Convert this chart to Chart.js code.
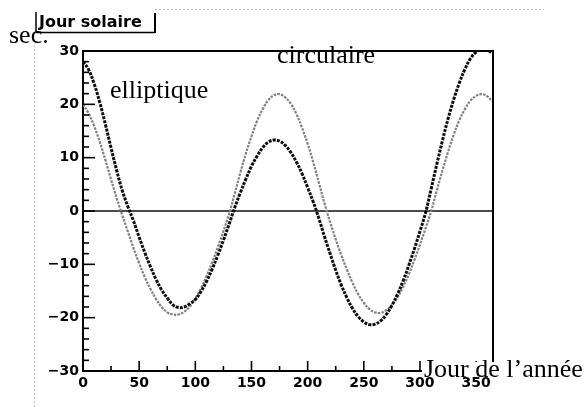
<!DOCTYPE html>
<html><head><meta charset="utf-8">
<script src="https://cdn.jsdelivr.net/npm/chart.js@4.4.1/dist/chart.umd.min.js"></script>
<style>html,body{margin:0;padding:0;background:#fff;overflow:hidden}canvas{display:block}</style>
</head><body>
<canvas id="c" width="586" height="407"></canvas>
<script>
// ---- data ----
const days = [0,5,10,15,20,25,30,35,40,45,
  50,55,60,65,70,75,80,85,90,95,
  100,105,110,115,120,125,130,135,140,145,
  150,155,160,165,170,175,180,185,190,195,
  200,205,210,215,220,225,230,235,240,245,
  250,255,260,265,270,275,280,285,290,295,
  300,305,310,315,320,325,330,335,340,345,
  350,355,360,364];
const elliptique = [28.0,26.5,23.8,20.3,16.2,11.8,7.6,3.8,0.8,-1.9,
  -4.9,-7.8,-10.4,-12.8,-14.8,-16.3,-17.6,-18.1,-18.0,-17.4,
  -16.6,-15.1,-13.2,-10.9,-8.3,-5.5,-2.5,0.6,3.4,6.0,
  8.4,10.3,11.9,12.9,13.3,13.1,12.3,11.0,9.2,7.0,
  4.4,1.7,-1.4,-4.8,-8.0,-11.1,-13.9,-16.3,-18.3,-19.8,
  -20.8,-21.3,-21.2,-20.6,-19.4,-17.7,-15.6,-13.1,-10.2,-7.1,
  -3.8,-0.3,4.2,8.8,13.2,17.3,20.9,24.0,26.6,28.6,
  29.8,30.4,30.2,29.6];
const circulaire = [20.0,18.3,15.9,12.9,9.5,5.9,2.4,-0.8,-3.9,-7.0,
  -9.8,-12.4,-14.6,-16.5,-18.0,-19.0,-19.4,-19.4,-18.9,-17.9,
  -16.4,-14.5,-12.2,-9.6,-6.8,-3.8,-0.6,3.2,7.1,10.8,
  14.0,16.9,19.1,20.8,21.7,21.9,21.3,20.1,18.2,15.6,
  12.6,9.1,5.3,1.4,-2.1,-5.3,-8.3,-11.0,-13.5,-15.6,
  -17.2,-18.4,-19.0,-19.1,-18.6,-17.6,-16.2,-14.2,-11.9,-9.2,
  -6.3,-3.2,0.0,3.9,7.6,11.1,14.3,17.0,19.1,20.7,
  21.6,21.9,21.5,20.6];
const xRange = [0, 365];
const yRange = [-30, 30];
const xMajor = 50, xMinor = 25;
const yMajor = 10, yMinor = 2;
const titleText = 'Jour solaire';
const yUnit = 'sec.';
const xTitle = 'Jour de l\u2019ann\u00e9e';
const labelEll = 'elliptique';
const labelCirc = 'circulaire';

const pts = arr => days.map((d, i) => ({x: d, y: arr[i]}));

const deco = {
  id: 'deco',
  beforeDatasetsDraw(chart) {
    const {ctx, chartArea: a, scales: {x, y}} = chart;
    ctx.save();
    ctx.strokeStyle = '#111';
    ctx.lineWidth = 1.5;
    const y0 = y.getPixelForValue(0);
    ctx.beginPath(); ctx.moveTo(a.left, y0); ctx.lineTo(a.right, y0); ctx.stroke();
    ctx.restore();
  },
  afterDraw(chart) {
    const {ctx, chartArea: a, scales: {x, y}} = chart;
    ctx.save();
    // scan artifacts
    ctx.strokeStyle = '#c4c8d6'; ctx.lineWidth = 1; ctx.setLineDash([2, 2]);
    ctx.beginPath(); ctx.moveTo(155, 9.5); ctx.lineTo(544, 9.5); ctx.stroke();
    ctx.beginPath(); ctx.moveTo(34.5, 45); ctx.lineTo(34.5, 407); ctx.stroke();
    ctx.setLineDash([]);
    // frame top & right
    ctx.strokeStyle = '#000'; ctx.lineWidth = 2;
    ctx.beginPath(); ctx.moveTo(a.left, a.top); ctx.lineTo(a.right, a.top); ctx.lineTo(a.right, a.bottom); ctx.stroke();
    // inward ticks
    ctx.lineWidth = 1.6;
    for (let v = xRange[0]; v <= 350; v += xMinor) {
      const px = x.getPixelForValue(v);
      const len = (v % xMajor === 0) ? 10 : 5;
      ctx.beginPath(); ctx.moveTo(px, a.bottom); ctx.lineTo(px, a.bottom - len); ctx.stroke();
    }
    for (let v = yRange[0]; v <= yRange[1]; v += yMinor) {
      const py = y.getPixelForValue(v);
      const len = (v % yMajor === 0) ? 12 : 6;
      ctx.beginPath(); ctx.moveTo(a.left, py); ctx.lineTo(a.left + len, py); ctx.stroke();
    }
    // title box
    ctx.lineWidth = 1.5;
    ctx.beginPath(); ctx.moveTo(36, 12); ctx.lineTo(36, 32.5); ctx.lineTo(155, 32.5); ctx.stroke();
    ctx.lineWidth = 2;
    ctx.beginPath(); ctx.moveTo(155, 13); ctx.lineTo(155, 33); ctx.stroke();
    ctx.fillStyle = '#000';
    ctx.font = 'bold 16px "DejaVu Sans"';
    ctx.textBaseline = 'alphabetic'; ctx.textAlign = 'left';
    ctx.fillText(titleText, 39, 27);
    // serif annotations
    ctx.font = '26px "Liberation Serif"';
    ctx.fillText(yUnit, 9, 43);
    ctx.fillText(labelEll, 110, 98);
    ctx.fillText(labelCirc, 277, 63);
    // x title with white backing
    ctx.fillStyle = '#fff';
    ctx.fillRect(422, 362, 164, 11);
    ctx.fillStyle = '#000';
    ctx.fillText(xTitle, 424, 377);
    ctx.restore();
  }
};

new Chart(document.getElementById('c'), {
  type: 'line',
  data: {
    datasets: [
      { label: labelEll, data: pts(elliptique), borderColor: '#0d0d0d', borderWidth: 3,
        borderDash: [3, 1.2], pointRadius: 0, tension: 0.4, fill: false },
      { label: labelCirc, data: pts(circulaire), borderColor: '#808080', borderWidth: 2.2,
        borderDash: [2.5, 1.2], pointRadius: 0, tension: 0.4, fill: false }
    ]
  },
  options: {
    responsive: false, animation: false,
    layout: { padding: { left: 0, top: 51, right: 93, bottom: 0 } },
    plugins: { legend: { display: false }, tooltip: { enabled: false }, title: { display: false } },
    scales: {
      x: {
        type: 'linear', min: xRange[0], max: xRange[1],
        grid: { display: false, drawTicks: false },
        border: { display: true, color: '#000', width: 2 },
        ticks: { stepSize: xMajor, includeBounds: false, color: '#000', padding: 4,
          maxRotation: 0, autoSkip: false,
          font: { family: 'DejaVu Sans', weight: 'bold', size: 14 } },
        afterFit(s) { s.height = 36; }
      },
      y: {
        min: yRange[0], max: yRange[1],
        grid: { display: false, drawTicks: false },
        border: { display: true, color: '#000', width: 2 },
        ticks: { stepSize: yMajor, color: '#000', padding: 4, autoSkip: false,
          font: { family: 'DejaVu Sans', weight: 'bold', size: 14 },
          callback: v => String(v).replace('-', '\u2212') },
        afterFit(s) { s.width = 83; }
      }
    }
  },
  plugins: [deco]
});
</script>
</body></html>
